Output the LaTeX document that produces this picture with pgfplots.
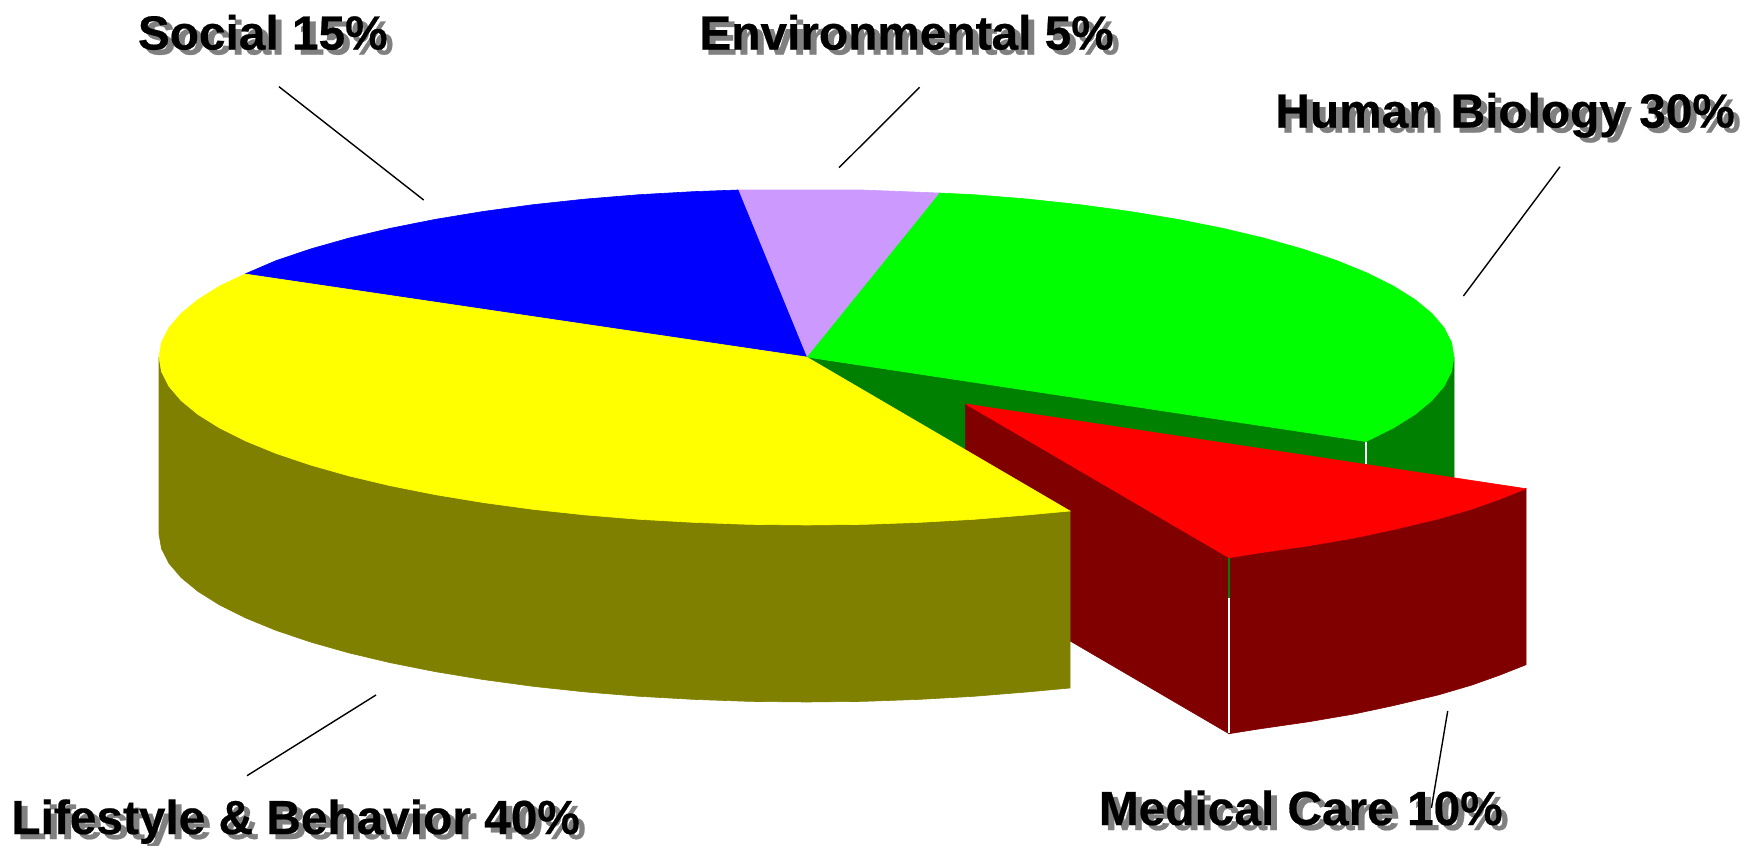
\documentclass[border=0pt]{standalone}
\usepackage{fontspec}
\setmainfont{Liberation Sans}[FakeBold=0.5]
\usepackage{pgfplots}
\pgfplotsset{compat=1.18}

\definecolor{cyellow}{HTML}{FFFF00}
\definecolor{colive}{HTML}{808000}
\definecolor{cblue}{HTML}{0000FF}
\definecolor{clav}{HTML}{CC99FF}
\definecolor{cgreen}{HTML}{00FF00}
\definecolor{cdgreen}{HTML}{008000}
\definecolor{cred}{HTML}{FF0000}
\definecolor{cdred}{HTML}{800000}

% one axis unit is one pixel of the reference, y runs downwards
\newcommand{\lab}[3]{%
  \node[anchor=base west,inner sep=0pt,text=black!50] at (axis cs:#1+6,#2+5) {\fontsize{23.9pt}{26pt}\selectfont\bfseries #3};
  \node[anchor=base west,inner sep=0pt,text=black] at (axis cs:#1,#2) {\fontsize{23.9pt}{26pt}\selectfont\bfseries #3};
}

\begin{document}
\begin{tikzpicture}
\useasboundingbox (0,0) rectangle (878.5pt,423pt);
\begin{axis}[
    at={(0,0)}, anchor=south west,
    scale only axis,
    width=878.5pt, height=423pt,
    xmin=0, xmax=1757, ymin=0, ymax=846,
    y dir=reverse,
    hide axis,
    clip=false,
    no markers,
    every axis plot/.append style={line width=0.3pt},
]
% green slice: cut face and outer wall
\addplot[fill=cdgreen,draw=cdgreen] coordinates {(806.5,357) (1366,441.5) (1366,618.5) (806.5,534) (806.5,357)};
\addplot[fill=cdgreen,draw=cdgreen] coordinates {(1454,357) (1451.5,371.6) (1444.1,386.2) (1431.9,400.5) (1414.9,414.5) (1393.3,428) (1366,441.5) (1366,618.5) (1454,534) (1454,357)};
% green top
\addplot[fill=cgreen,draw=cgreen] coordinates {(806.5,357) (939,193) (974.1,194.7) (1028,199.1) (1080.1,204.7) (1130.3,211.5) (1177.9,219.4) (1222.7,228.3) (1264.4,238.2) (1302.5,249) (1336.9,260.6) (1367.2,273) (1393.3,286) (1414.9,299.5) (1431.9,313.5) (1444.1,327.8) (1451.5,342.4) (1454,357) (1451.5,371.6) (1444.1,386.2) (1431.9,400.5) (1414.9,414.5) (1393.3,428) (1366,441.5) (806.5,357)};
% environmental
\addplot[fill=clav,draw=clav] coordinates {(806.5,357) (738,190) (806.5,190) (862,190) (939,193) (806.5,357)};
% social
\addplot[fill=cblue,draw=cblue] coordinates {(806.5,357) (245,274) (276.1,260.6) (310.5,249) (348.6,238.2) (390.3,228.3) (435.1,219.4) (482.9,211.5) (532.9,204.7) (585,199.1) (638.9,194.7) (694.1,191.6) (738,190) (806.5,357)};
% medical care, pulled out
\addplot[fill=cdred,draw=cdred] coordinates {(965.7,404) (1229,557.7) (1229,733.7) (965.7,580) (965.7,404)};
\addplot[fill=cdred,draw=cdred] coordinates {(1229,557.7) (1258.6,553) (1309,545.7) (1354,538) (1393,529.7) (1438,519) (1472,509) (1500,499) (1526,488.7) (1526,664.7) (1500,675) (1472,685) (1438,695) (1393,705.7) (1354,714) (1309,721.7) (1258.6,729) (1229,733.7) (1229,557.7)};
\addplot[fill=cred,draw=cred] coordinates {(965.7,404) (1526,488.7) (1500,499) (1472,509) (1438,519) (1393,529.7) (1354,538) (1309,545.7) (1258.6,553) (1229,557.7) (965.7,404)};
% seams
\addplot[draw=white,line width=0.7pt] coordinates {(1366,442) (1366,464)};
\addplot[draw=cdgreen,line width=0.7pt] coordinates {(1229,558) (1229,598)};
\addplot[draw=white,line width=0.7pt] coordinates {(1229,598) (1229,733)};
% lifestyle: wall then top
\addplot[fill=colive,draw=colive] coordinates {(159,357) (159,534) (161.5,548.6) (168.9,563.2) (181.1,577.5) (198.1,591.5) (219.7,605) (245.8,618) (276.1,630.4) (310.5,642) (348.6,652.8) (390.3,662.7) (435.1,671.6) (482.9,679.5) (532.9,686.3) (585,691.9) (638.9,696.3) (694.1,699.4) (750.1,701.4) (806.5,702) (862.9,701.4) (918.9,699.4) (974.1,696.3) (1028,691.9) (1070,688) (1070,511) (159,357)};
\addplot[fill=cyellow,draw=cyellow] coordinates {(806.5,357) (245,274) (219.7,286) (198.1,299.5) (181.1,313.5) (168.9,327.8) (161.5,342.4) (159,357) (161.5,371.6) (168.9,386.2) (181.1,400.5) (198.1,414.5) (219.7,428) (245.8,441) (276.1,453.4) (310.5,465) (348.6,475.8) (390.3,485.7) (435.1,494.6) (482.9,502.5) (532.9,509.3) (585,514.9) (638.9,519.3) (694.1,522.4) (750.1,524.4) (806.5,525) (862.9,524.4) (918.9,522.4) (974.1,519.3) (1028,514.9) (1070,511) (806.5,357)};
% labels
\lab{137.5}{49.5}{Social 15\%}
\lab{699}{49.5}{Environmental 5\%}
\lab{1275}{127.5}{Human Biology 30\%}
\lab{11}{834}{Lifestyle \& Behavior 40\%}
\lab{1098.5}{825}{Medical Care 10\%}
% leader lines
\addplot[draw=black,line width=0.7pt] coordinates {(279,86.7) (423.7,200)};
\addplot[draw=black,line width=0.7pt] coordinates {(919.6,87.3) (839,167.7)};
\addplot[draw=black,line width=0.7pt] coordinates {(1560,166.7) (1463.4,296)};
\addplot[draw=black,line width=0.7pt] coordinates {(376,695) (247,775.7)};
\addplot[draw=black,line width=0.7pt] coordinates {(1447.7,711) (1431.4,808)};
\end{axis}
\end{tikzpicture}
\end{document}
